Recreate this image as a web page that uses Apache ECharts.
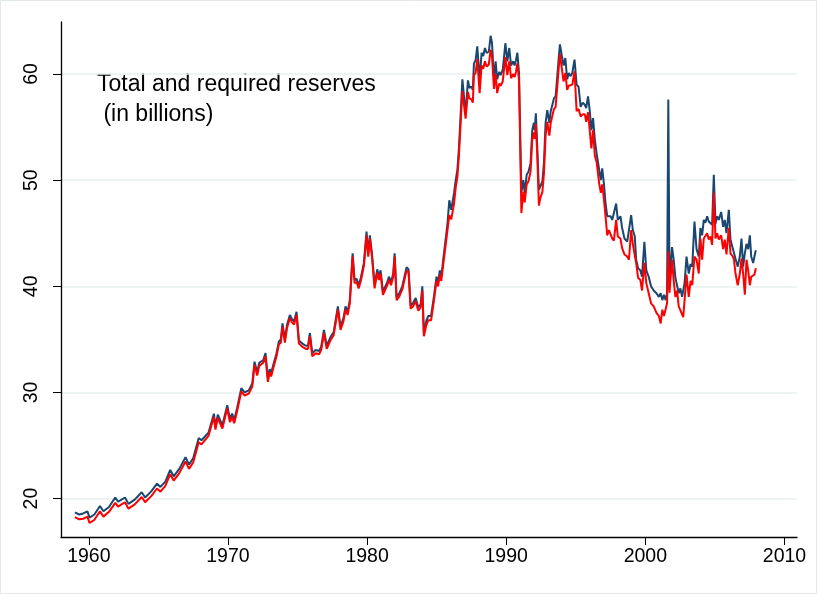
<!DOCTYPE html>
<html>
<head>
<meta charset="utf-8">
<script src="https://cdn.jsdelivr.net/npm/echarts@6/dist/echarts.min.js"></script>
<style>
  html, body { margin: 0; padding: 0; background: #fff; }
  #chart { width: 817px; height: 594px; }
</style>
</head>
<body>
<div id="chart"></div>
<script>
// monthly-ish readings, billions of dollars
const years = [
  1959.0, 1959.3, 1959.6, 1959.9, 1960.05, 1960.4, 1960.8, 1961.05, 1961.45, 1961.9,
  1962.1, 1962.35, 1962.6, 1962.85, 1963.3, 1963.8, 1964.05, 1964.5, 1964.9, 1965.15,
  1965.5, 1965.85, 1966.1, 1966.5, 1966.95, 1967.2, 1967.5, 1967.9, 1968.1, 1968.6,
  1968.99, 1969.1, 1969.27, 1969.6, 1969.95, 1970.14, 1970.3, 1970.45, 1970.67, 1970.8,
  1970.96, 1971.2, 1971.5, 1971.75, 1971.91, 1972.1, 1972.25, 1972.54, 1972.7, 1972.87,
  1973.0, 1973.1, 1973.3, 1973.49, 1973.66, 1973.8, 1973.92, 1974.09, 1974.25, 1974.45,
  1974.6, 1974.75, 1974.93, 1975.1, 1975.35, 1975.6, 1975.75, 1975.89, 1976.06, 1976.3,
  1976.55, 1976.7, 1976.9, 1977.1, 1977.4, 1977.6, 1977.9, 1978.09, 1978.3, 1978.45,
  1978.6, 1978.76, 1978.96, 1979.1, 1979.25, 1979.39, 1979.55, 1979.65, 1979.77, 1979.96,
  1980.08, 1980.2, 1980.35, 1980.54, 1980.73, 1980.85, 1980.97, 1981.14, 1981.35, 1981.45,
  1981.57, 1981.72, 1981.88, 1981.98, 1982.12, 1982.3, 1982.53, 1982.65, 1982.84, 1982.98,
  1983.13, 1983.3, 1983.49, 1983.68, 1983.85, 1983.97, 1984.08, 1984.27, 1984.4, 1984.6,
  1984.8, 1984.99, 1985.1, 1985.23, 1985.33, 1985.48, 1985.77, 1985.91, 1986.05, 1986.25,
  1986.37, 1986.49, 1986.6, 1986.85, 1986.96, 1987.08, 1987.25, 1987.35, 1987.5, 1987.6,
  1987.68, 1987.8, 1987.92, 1988.09, 1988.23, 1988.35, 1988.47, 1988.6, 1988.75, 1988.88,
  1988.98, 1989.12, 1989.24, 1989.35, 1989.5, 1989.6, 1989.75, 1989.94, 1990.08, 1990.22,
  1990.35, 1990.5, 1990.6, 1990.7, 1990.8, 1990.92, 1991.09, 1991.23, 1991.33, 1991.47,
  1991.6, 1991.75, 1991.87, 1991.99, 1992.05, 1992.13, 1992.23, 1992.35, 1992.45, 1992.6,
  1992.71, 1992.83, 1992.95, 1993.1, 1993.2, 1993.3, 1993.43, 1993.55, 1993.67, 1993.78,
  1993.86, 1994.0, 1994.12, 1994.25, 1994.38, 1994.5, 1994.62, 1994.75, 1994.91, 1995.06,
  1995.2, 1995.35, 1995.5, 1995.65, 1995.75, 1995.88, 1996.0, 1996.12, 1996.24, 1996.37,
  1996.5, 1996.68, 1996.8, 1996.9, 1997.02, 1997.14, 1997.26, 1997.38, 1997.5, 1997.62,
  1997.74, 1997.9, 1998.02, 1998.21, 1998.33, 1998.5, 1998.7, 1998.82, 1998.98, 1999.1,
  1999.24, 1999.34, 1999.48, 1999.64, 1999.76, 1999.93, 2000.07, 2000.24, 2000.41, 2000.6,
  2000.8, 2000.97, 2001.1, 2001.22, 2001.34, 2001.46, 2001.56, 2001.65, 2001.74, 2001.8,
  2001.92, 2002.04, 2002.16, 2002.28, 2002.4, 2002.52, 2002.64, 2002.72, 2002.82, 2002.96,
  2003.12, 2003.25, 2003.37, 2003.53, 2003.68, 2003.84, 2003.96, 2004.08, 2004.2, 2004.32,
  2004.44, 2004.56, 2004.68, 2004.8, 2004.92, 2005.04, 2005.16, 2005.28, 2005.45, 2005.59,
  2005.71, 2005.83, 2006.0, 2006.12, 2006.24, 2006.36, 2006.48, 2006.64, 2006.79, 2006.91,
  2007.03, 2007.15, 2007.27, 2007.39, 2007.51, 2007.61, 2007.75, 2007.84, 2007.94
];

const totalReserves = [
  18.7, 18.5, 18.6, 18.8, 18.2, 18.5, 19.3, 18.8, 19.2, 20.1,
  19.7, 19.9, 20.1, 19.5, 19.9, 20.6, 20.1, 20.7, 21.4, 21.1,
  21.6, 22.7, 22.1, 22.8, 23.9, 23.2, 23.8, 25.7, 25.5, 26.2,
  28.0, 26.8, 27.9, 26.9, 28.8, 27.5, 28.0, 27.4, 28.6, 28.6,
  30.4, 30.0, 30.2, 30.85, 32.9, 31.9, 32.8, 33.05, 33.7, 31.3,
  32.2, 31.8, 32.8, 33.7, 34.8, 35.0, 36.5, 35.0, 36.4, 37.3,
  36.9, 36.7, 37.6, 34.9, 34.6, 34.4, 34.4, 35.6, 33.7, 34.0,
  33.9, 34.3, 35.9, 34.4, 35.3, 35.7, 38.1, 36.2, 37.0, 38.1,
  37.6, 38.7, 43.1, 40.6, 40.7, 40.1, 40.8, 40.8, 42.2, 45.15,
  43.1, 44.8, 43.1, 40.1, 41.6, 40.9, 41.5, 39.5, 40.1, 40.4,
  40.9, 40.4, 41.2, 43.1, 39.0, 39.3, 40.0, 39.9, 41.8, 41.6,
  38.2, 38.4, 38.9, 38.0, 38.3, 40.0, 35.6, 36.8, 37.2, 37.2,
  39.0, 40.9, 40.4, 41.5, 40.9, 42.6, 45.8, 48.1, 47.2, 48.8,
  50.0, 51.0, 53.0, 59.5, 59.6, 56.3, 59.4, 58.7, 58.8, 58.5,
  61.0, 61.3, 62.6, 59.5, 62.0, 61.7, 62.45, 62.0, 62.1, 63.6,
  62.9, 59.5, 61.2, 59.5, 60.2, 59.9, 60.4, 62.9, 61.2, 62.45,
  60.8, 61.2, 60.8, 61.3, 62.0, 60.1, 48.8, 50.0, 48.8, 50.5,
  50.8, 51.6, 54.7, 55.4, 54.7, 56.3, 53.2, 49.1, 49.4, 49.9,
  51.6, 55.4, 56.6, 55.4, 56.5, 56.6, 57.7, 57.9, 59.8, 61.6,
  62.8, 61.7, 60.8, 61.5, 59.5, 60.1, 59.8, 60.1, 61.35, 59.0,
  58.8, 56.9, 57.3, 57.1, 56.8, 57.9, 56.6, 54.7, 55.85, 53.8,
  52.5, 51.0, 50.0, 51.1, 49.7, 47.8, 46.6, 46.7, 46.6, 46.25,
  46.1, 47.8, 46.25, 46.6, 45.5, 44.5, 44.2, 44.2, 46.7, 45.3,
  44.7, 42.5, 41.7, 41.5, 40.9, 44.2, 41.5, 40.9, 40.0, 39.6,
  39.35, 39.0, 39.35, 38.7, 39.2, 38.7, 39.35, 57.6, 40.0, 41.5,
  43.7, 42.5, 40.8, 40.8, 39.35, 39.8, 39.0, 38.9, 40.3, 42.8,
  41.2, 42.1, 41.85, 46.1, 43.5, 42.8, 45.5, 44.8, 46.25, 46.0,
  46.6, 46.1, 46.25, 45.8, 50.5, 45.9, 46.6, 46.25, 47.0, 45.6,
  46.25, 45.0, 47.2, 44.4, 43.8, 43.8, 42.6, 41.85, 42.8, 44.5,
  41.85, 43.1, 44.0, 43.5, 44.8, 42.8, 42.2, 42.8, 43.4
];

const requiredReserves = [
  18.25, 18.05, 18.1, 18.3, 17.7, 18.0, 18.8, 18.3, 18.75, 19.6,
  19.25, 19.45, 19.65, 19.05, 19.45, 20.15, 19.65, 20.25, 20.95, 20.65,
  21.2, 22.3, 21.7, 22.4, 23.5, 22.8, 23.4, 25.3, 25.1, 25.9,
  27.7, 26.5, 27.6, 26.6, 28.5, 27.2, 27.7, 27.1, 28.3, 28.3,
  30.1, 29.7, 29.9, 30.55, 32.6, 31.6, 32.5, 32.8, 33.4, 31.0,
  31.9, 31.5, 32.5, 33.4, 34.5, 34.7, 36.2, 34.7, 36.1, 37.0,
  36.6, 36.4, 37.3, 34.6, 34.3, 34.1, 34.1, 35.3, 33.4, 33.7,
  33.6, 34.0, 35.6, 34.1, 35.0, 35.4, 37.8, 35.9, 36.7, 37.8,
  37.3, 38.4, 42.8, 40.3, 40.4, 39.8, 40.5, 40.5, 41.9, 44.8,
  42.8, 44.5, 42.8, 39.8, 41.3, 40.6, 41.2, 39.2, 39.8, 40.1,
  40.6, 40.1, 40.9, 42.8, 38.7, 39.0, 39.7, 39.6, 41.5, 41.3,
  37.9, 38.1, 38.6, 37.7, 38.0, 39.6, 35.3, 36.4, 36.8, 36.8,
  38.6, 40.5, 40.0, 41.1, 40.5, 42.1, 45.2, 46.7, 46.3, 47.8,
  49.3, 50.3, 52.3, 58.4, 58.5, 55.8, 58.3, 57.7, 57.6, 57.3,
  59.9, 60.1, 61.4, 58.2, 60.8, 60.5, 61.2, 60.7, 60.9, 62.3,
  61.6, 58.6, 60.0, 58.2, 59.1, 58.9, 59.3, 61.6, 59.9, 61.2,
  59.6, 60.0, 59.7, 60.2, 61.0, 59.4, 46.9, 48.9, 47.9, 49.6,
  49.9, 50.8, 53.8, 54.5, 53.9, 55.3, 52.4, 47.6, 48.3, 48.9,
  50.6, 54.2, 55.5, 54.2, 55.4, 55.5, 56.7, 56.9, 58.8, 60.7,
  61.9, 60.5, 59.3, 60.1, 58.5, 58.9, 58.8, 59.0, 60.25, 56.5,
  56.7, 56.0, 56.2, 56.2, 55.5, 56.4, 54.7, 53.0, 54.7, 52.3,
  51.7, 49.7, 48.8, 49.6, 48.2, 46.6, 44.8, 45.3, 45.3, 44.5,
  44.3, 46.25, 44.7, 44.5, 43.6, 43.0, 42.8, 42.5, 45.3, 44.0,
  42.9, 42.2, 40.8, 40.6, 39.6, 42.2, 40.3, 39.35, 38.4, 38.1,
  37.5, 37.2, 36.5, 37.8, 37.2, 37.2, 38.4, 43.3, 39.4, 40.6,
  42.5, 40.5, 39.0, 39.6, 38.1, 38.2, 37.35, 37.1, 38.7, 41.1,
  39.0, 40.5, 40.1, 42.8, 42.5, 41.2, 44.5, 42.5, 44.5, 44.4,
  45.0, 44.4, 44.7, 43.9, 48.8, 44.5, 45.0, 44.4, 44.8, 43.5,
  44.4, 43.0, 45.5, 43.1, 42.9, 42.6, 41.2, 40.1, 41.2, 42.6,
  41.2, 39.2, 42.5, 41.5, 40.1, 40.9, 40.9, 41.1, 41.7
];

const xTicks = [1960, 1970, 1980, 1990, 2000, 2010];
const yTicks = [20, 30, 40, 50, 60];
const noteLines = ['Total and required reserves', ' (in billions)'];

const chart = echarts.init(document.getElementById('chart'));
const font = "'Liberation Sans', Arial, sans-serif";

const toPairs = values => years.map((y, i) => [y, values[i]]);

const option = {
  animation: false,
  backgroundColor: '#fff',
  grid: { left: 61, right: 20, top: 22, bottom: 57 },
  graphic: [
    {
      type: 'rect',
      silent: true,
      shape: { x: 0.5, y: 0.5, width: 816, height: 593 },
      style: { fill: 'none', stroke: '#e3e9ea', lineWidth: 1 }
    },
    {
      type: 'text',
      x: 97,
      y: 85,
      style: { text: noteLines[0], font: '23px ' + font, fill: '#000', verticalAlign: 'middle' }
    },
    {
      type: 'text',
      x: 97,
      y: 115,
      style: { text: noteLines[1], font: '23px ' + font, fill: '#000', verticalAlign: 'middle' }
    }
  ],
  xAxis: {
    type: 'value',
    min: 1958,
    max: 2010.9,
    axisLine: { show: true, lineStyle: { color: '#000', width: 1.3 } },
    axisTick: { show: true, length: 8, customValues: xTicks, lineStyle: { color: '#000', width: 1 } },
    axisLabel: {
      customValues: xTicks,
      formatter: v => String(v),
      margin: 10,
      color: '#000',
      fontSize: 19.5,
      fontFamily: font
    },
    splitLine: { show: false }
  },
  yAxis: {
    type: 'value',
    min: 16.38,
    max: 64.9,
    axisLine: { show: true, lineStyle: { color: '#000', width: 1.3 } },
    axisTick: { show: true, length: 8, customValues: yTicks, lineStyle: { color: '#000', width: 1 } },
    axisLabel: {
      customValues: yTicks,
      formatter: v => String(v),
      rotate: 90,
      margin: 19,
      color: '#000',
      fontSize: 19.5,
      fontFamily: font
    },
    splitLine: { show: true, lineStyle: { color: '#e8eff1', width: 1.5 } }
  },
  series: [
    {
      name: 'Total reserves',
      type: 'line',
      data: toPairs(totalReserves),
      showSymbol: false,
      lineStyle: { color: '#1a476f', width: 2 },
      z: 2
    },
    {
      name: 'Required reserves',
      type: 'line',
      data: toPairs(requiredReserves),
      showSymbol: false,
      lineStyle: { color: '#ff0000', width: 2 },
      z: 3
    }
  ]
};

chart.setOption(option);
</script>
</body>
</html>
